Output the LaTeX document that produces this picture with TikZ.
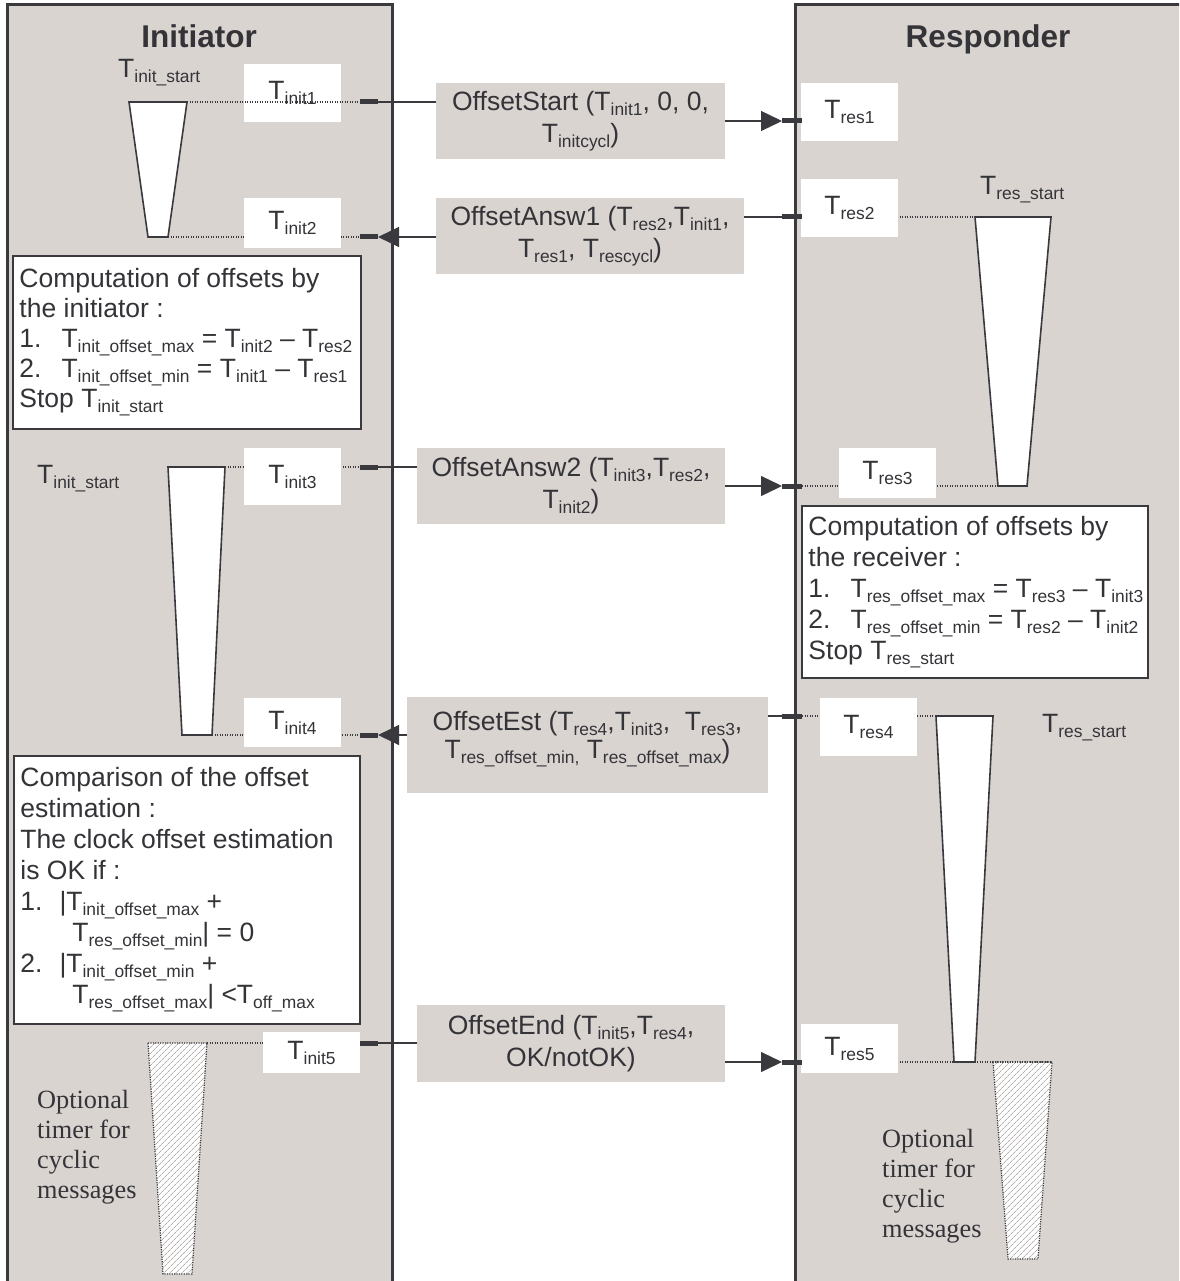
\documentclass[tikz,border=0pt]{standalone}
\usepackage{fontspec}
\setmainfont{Liberation Sans}
\newfontfamily\optfont{Liberation Serif}
\usepackage{tikz}
\usetikzlibrary{arrows.meta,patterns.meta}

\definecolor{lanegray}{RGB}{218,212,209}
\definecolor{linegray}{RGB}{58,58,62}
\definecolor{txtgray}{RGB}{52,52,56}
\definecolor{hatchgray}{RGB}{178,174,172}

\newcommand{\tsub}[1]{T\raisebox{-5pt}{\fontsize{17.4}{18}\selectfont #1}}

\tikzset{
  lane/.style={fill=lanegray, draw=linegray, line width=3pt},
  title/.style={anchor=base, font=\bfseries\fontsize{31.5}{36}\selectfont},
  tbox/.style={fill=white, inner sep=0pt, minimum width=97pt},
  msg/.style={fill=lanegray, inner sep=0pt, align=center},
  compbox/.style={draw=linegray, fill=white, line width=1.5pt, inner sep=0pt},
  comptext/.style={anchor=west, align=left, inner sep=0pt, xshift=7pt},
  timer/.style={draw=linegray, fill=white, line width=1.6pt},
  opttimer/.style={draw=linegray, line width=1.2pt, dash pattern=on 1.2pt off 1.2pt,
    preaction={fill=white!96!lanegray}, pattern={Lines[angle=45,distance=4pt,line width=0.8pt]},
    pattern color=hatchgray},
  dots/.style={draw=linegray, line width=1.1pt, dash pattern=on 1.1pt off 1.4pt},
  tick/.style={draw=linegray, line width=5pt},
  msgline/.style={draw=linegray, line width=1.2pt},
  msgarrow/.style={msgline, -{Triangle[length=21pt,width=20pt]}},
  timerlbl/.style={anchor=base west, inner sep=0pt},
  opttext/.style={anchor=north west, align=left, inner sep=0pt,
    font=\optfont\fontsize{26.3}{30}\selectfont}
}

\begin{document}
\begin{tikzpicture}[x=1pt, y=-1pt, text=txtgray, font=\fontsize{26.5}{32}\selectfont]
    \useasboundingbox (0,0) rectangle (1179,1281);
    \clip (0,0) rectangle (1179,1281);

    % the two lanes
    \draw[lane] (7,1300) -- (7,5) -- (392,5) -- (392,1300);
    \draw[lane] (795,1300) -- (795,5) -- (1200,5) -- (1200,1300);

    \node[title] (initiator) at (199,48) {Initiator};
    \node[title] (responder) at (988,48) {Responder};

    % where the messages leave / reach the lanes
    \coordinate (i1) at (378,102);
    \coordinate (i2) at (378,237);
    \coordinate (i3) at (378,467);
    \coordinate (i4) at (378,735);
    \coordinate (i5) at (378,1043);
    \coordinate (r1) at (782,121);
    \coordinate (r2) at (782,217);
    \coordinate (r3) at (782,486);
    \coordinate (r4) at (782,716);
    \coordinate (r5) at (782,1062);

    % timers
    \draw[timer] (129,102) -- (187,102) coordinate (tI1) -- (168,237) coordinate (tI1b) -- (148,237) -- cycle;
    \draw[timer] (168,467) -- (225,467) coordinate (tI2) -- (212,735) coordinate (tI2b) -- (182,735) -- cycle;
    \draw[timer] (975,217) coordinate (tR1) -- (1051,217) -- (1027,486) -- (998,486) coordinate (tR1b) -- cycle;
    \draw[timer] (936,716) coordinate (tR2) -- (993,716) -- (975,1062) -- (954,1062) coordinate (tR2b) -- cycle;
    \draw[opttimer] (148,1043) -- (207,1043) coordinate (hI) -- (192,1274) -- (163,1274) -- cycle;
    \draw[opttimer] (993,1062) -- (1052,1062) coordinate (hR) -- (1038,1259) -- (1008,1259) -- cycle;

    \draw[dots] (tI1b) -- ([xshift=-18pt]i2);
    \draw[dots] (tI2) -- ([xshift=-18pt]i3);
    \draw[dots] (tI2b) -- ([xshift=-18pt]i4);
    \draw[dots] (hI) -- ([xshift=-18pt]i5);
    \draw[dots] ([xshift=20pt]r2) -- (tR1);
    \draw[dots] ([xshift=20pt]r3) -- (tR1b);
    \draw[dots] ([xshift=20pt]r4) -- (tR2);
    \draw[dots] ([xshift=20pt]r5) -- (hR);

    \node[timerlbl] (tis1) at (118,78) {\tsub{init\_start}};
    \node[timerlbl] (tis2) at (37,483) {\tsub{init\_start}};
    \node[timerlbl] (trs1) at (980,195) {\tsub{res\_start}};
    \node[timerlbl] (trs2) at (1042,732) {\tsub{res\_start}};

    % time stamps
    \node[tbox, minimum height=58pt] (bi1) at (292.5,93) {\tsub{init1}};
    \node[tbox, minimum height=50pt] (bi2) at (292.5,223) {\tsub{init2}};
    \node[tbox, minimum height=57pt] (bi3) at (292.5,476.5) {\tsub{init3}};
    \node[tbox, minimum height=49pt] (bi4) at (292.5,722.5) {\tsub{init4}};
    \node[tbox, minimum height=41pt] (bi5) at (311.5,1052.5) {\tsub{init5}};
    \node[tbox, minimum height=58pt] (br1) at (849.5,112) {\tsub{res1}};
    \node[tbox, minimum height=58pt] (br2) at (849.5,208) {\tsub{res2}};
    \node[tbox, minimum height=50pt] (br3) at (887.5,473) {\tsub{res3}};
    \node[tbox, minimum height=58pt] (br4) at (868.5,727) {\tsub{res4}};
    \node[tbox, minimum height=49pt] (br5) at (849.5,1048.5) {\tsub{res5}};

    \draw[dots] (tI1) -- ([xshift=-18pt]i1); % runs over the box

    % computations
    \node[compbox, minimum width=348pt, minimum height=173pt] (c1) at (187,342.5) {};
    \node[comptext, font=\fontsize{26.5}{30}\selectfont] (c1t) at (c1.west) {Computation of offsets by\\
        the initiator :\\
        1.\hspace{20pt}\tsub{init\_offset\_max} = \tsub{init2} -- \tsub{res2}\\
        2.\hspace{20pt}\tsub{init\_offset\_min} = \tsub{init1} -- \tsub{res1}\\
        Stop \tsub{init\_start}};
    \node[compbox, minimum width=346pt, minimum height=172pt] (c2) at (975,592) {};
    \node[comptext, font=\fontsize{26.5}{31}\selectfont] (c2t) at (c2.west) {Computation of offsets by\\
        the receiver :\\
        1.\hspace{20pt}\tsub{res\_offset\_max} = \tsub{res3} -- \tsub{init3}\\
        2.\hspace{20pt}\tsub{res\_offset\_min} = \tsub{res2} -- \tsub{init2}\\
        Stop \tsub{res\_start}};
    \node[compbox, minimum width=346pt, minimum height=268pt] (c3) at (187,890) {};
    \node[comptext, font=\fontsize{26.5}{31}\selectfont] (c3t) at (c3.west) {Comparison of the offset\\
        estimation :\\
        The clock offset estimation\\
        is OK if :\\
        1.\hspace{17pt}|\tsub{init\_offset\_max} +\\
        \hspace*{52pt}\tsub{res\_offset\_min}| = 0\\
        2.\hspace{17pt}|\tsub{init\_offset\_min} +\\
        \hspace*{52pt}\tsub{res\_offset\_max}| <\tsub{off\_max}};

    \node[opttext] (optI) at (37,1090) {Optional\\timer for\\cyclic\\messages};
    \node[opttext] (optR) at (882,1129) {Optional\\timer for\\cyclic\\messages};

    % messages
    \node[msg, minimum width=289pt, minimum height=76pt] (m1) at (580.5,121) {OffsetStart (\tsub{init1}, 0, 0,\\ \tsub{initcycl})};
    \node[msg, minimum width=308pt, minimum height=76pt] (m2) at (590,236) {OffsetAnsw1 (\tsub{res2},\tsub{init1},\\ \tsub{res1}, \tsub{rescycl})};
    \node[msg, minimum width=308pt, minimum height=76pt] (m3) at (571,486) {OffsetAnsw2 (\tsub{init3},\tsub{res2},\\ \tsub{init2})};
    \node[msg, minimum width=361pt, minimum height=96pt, font=\fontsize{26.5}{28}\selectfont] (m4) at (587.5,745)
        {OffsetEst (\tsub{res4},\tsub{init3},\ \ \tsub{res3},\\ \tsub{res\_offset\_min,} \tsub{res\_offset\_max})\rule[-20pt]{0pt}{20pt}};
    \node[msg, minimum width=308pt, minimum height=77pt] (m5) at (571,1043.5) {OffsetEnd (\tsub{init5},\tsub{res4},\\ OK/notOK)};

    \foreach \k in {1,...,5} {
        \draw[tick] ([xshift=-18pt]i\k) -- (i\k);
        \draw[tick] (r\k) -- ([xshift=20pt]r\k);
    }

    \draw[msgline] (i1) -- (m1.west |- i1);
    \draw[msgarrow] (m1.east |- r1) -- (r1);
    \draw[msgline] (r2) -- (m2.east |- r2);
    \draw[msgarrow] (m2.west |- i2) -- (i2);
    \draw[msgline] (i3) -- (m3.west |- i3);
    \draw[msgarrow] (m3.east |- r3) -- (r3);
    \draw[msgline] (r4) -- (m4.east |- r4);
    \draw[msgarrow] (m4.west |- i4) -- (i4);
    \draw[msgline] (i5) -- (m5.west |- i5);
    \draw[msgarrow] (m5.east |- r5) -- (r5);
\end{tikzpicture}
\end{document}
